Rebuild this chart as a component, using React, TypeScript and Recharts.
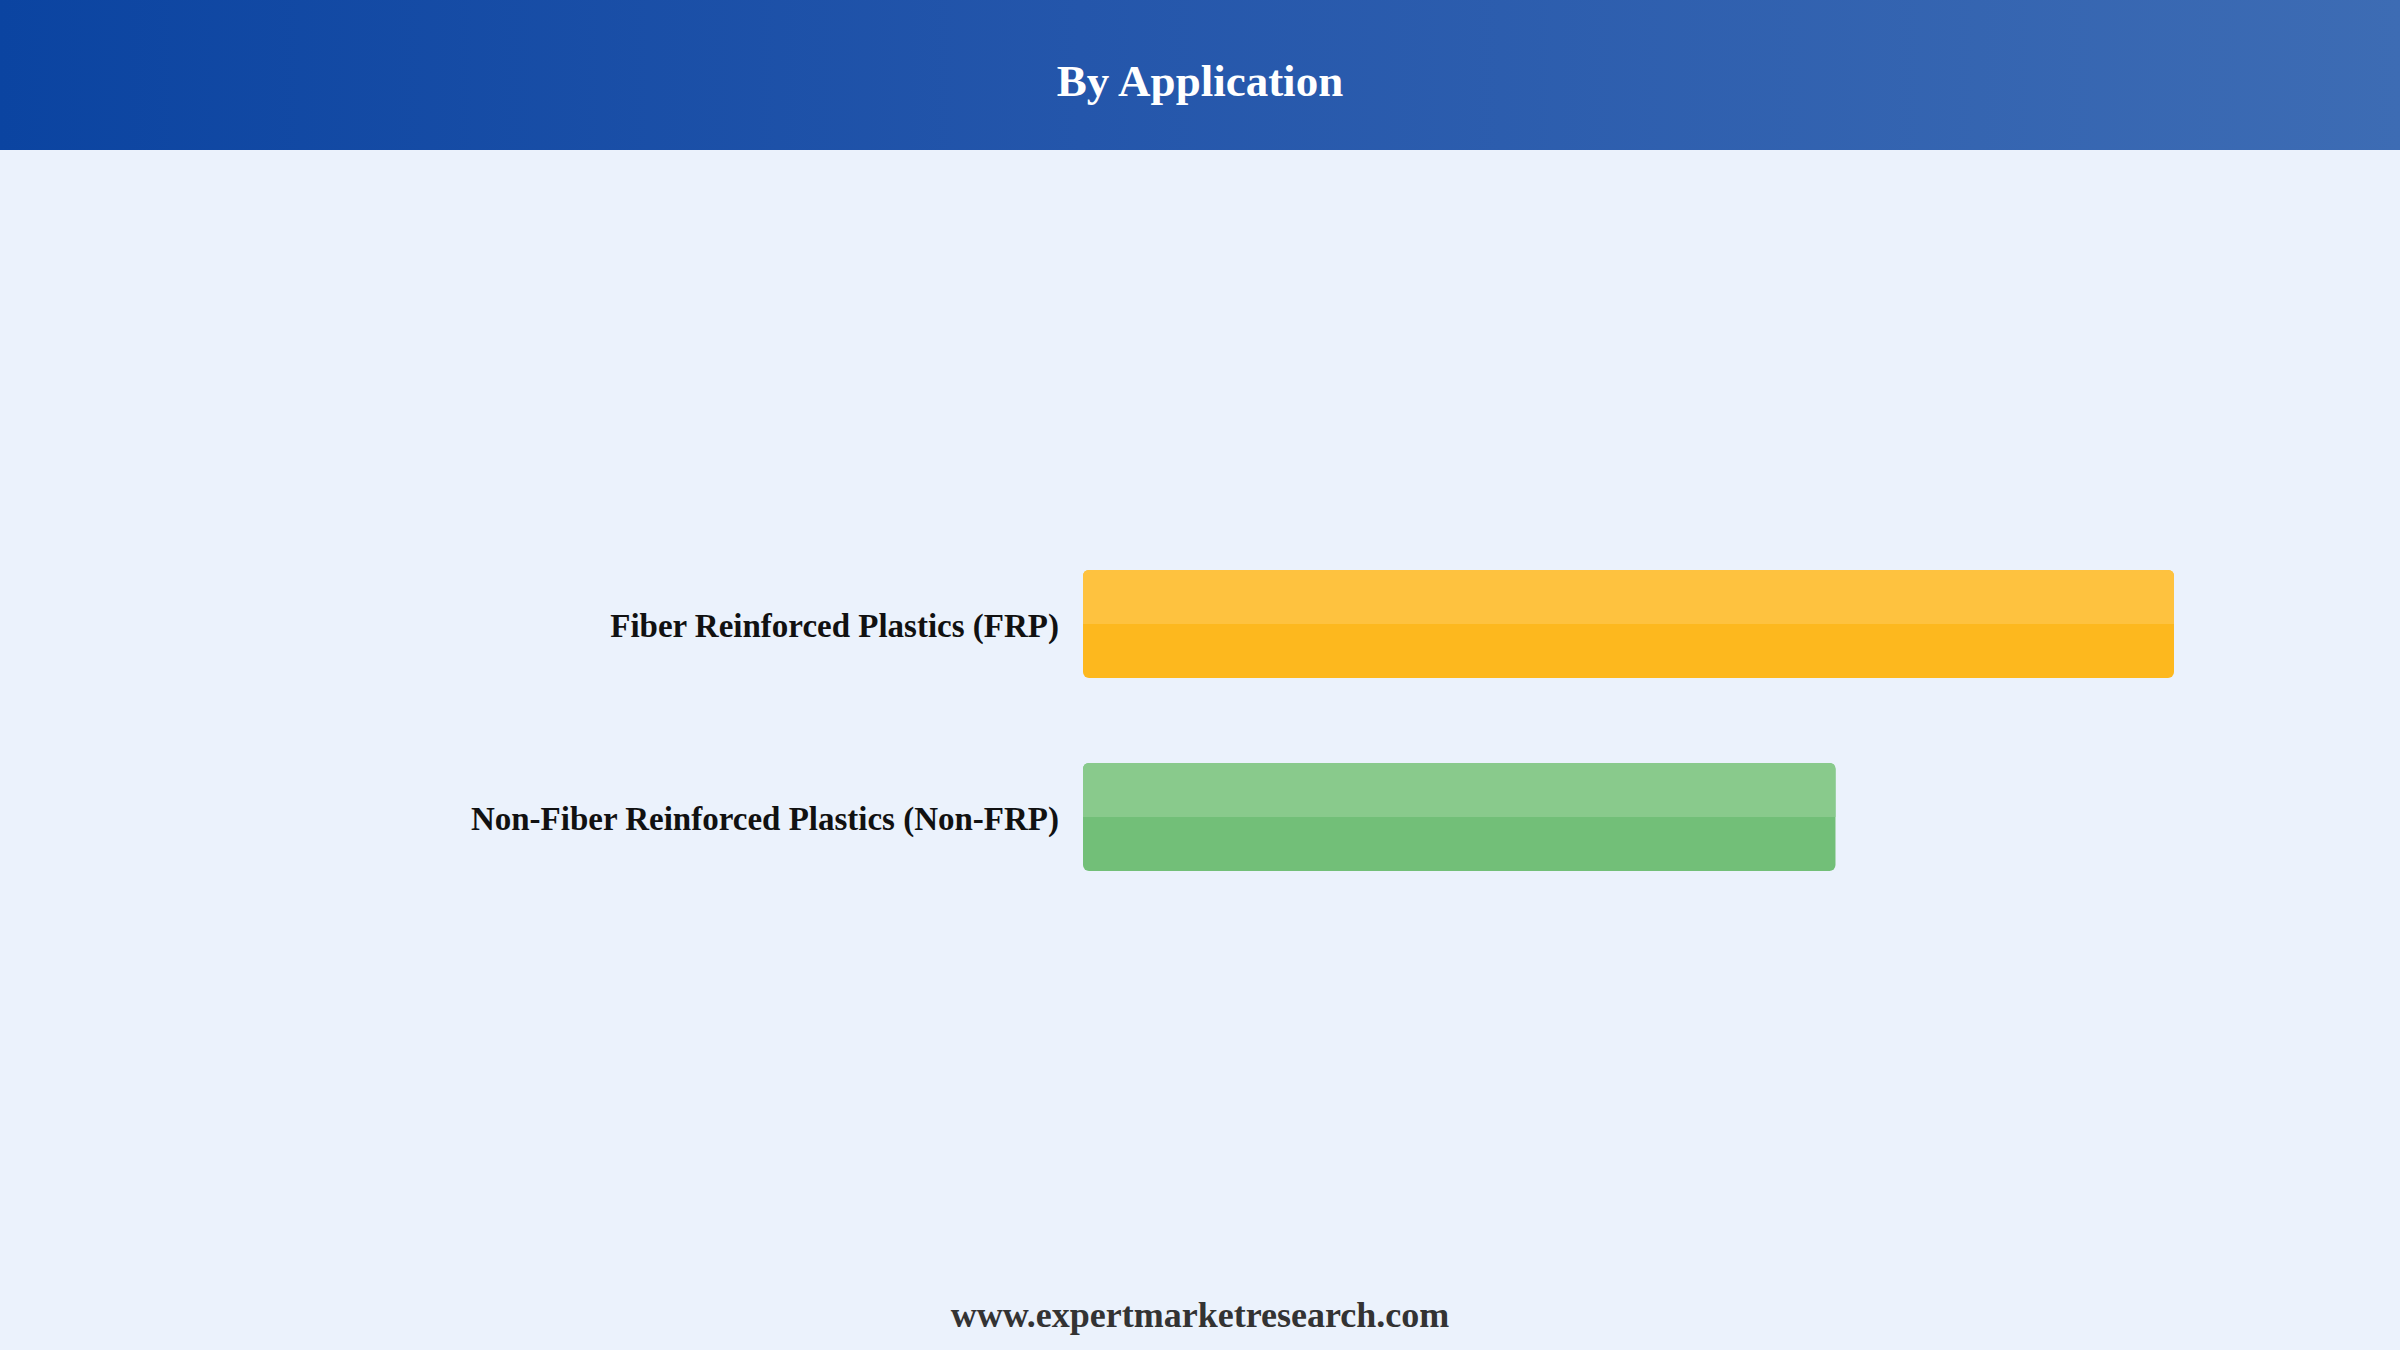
import React from "react";
import { BarChart, Bar, XAxis, YAxis } from "recharts";

const categories = ["Fiber Reinforced Plastics (FRP)", "Non-Fiber Reinforced Plastics (Non-FRP)"];
const shares = [59.3, 40.9];
const barColors = ["#FDB81E", "#72BF78"];
const barTopColors = ["#FEC23F", "#89CA8C"];

const data = categories.map((name, i) => ({ name, value: shares[i], idx: i }));

const FONT = '"Liberation Serif", "Times New Roman", serif';

const BarShape = (props: any) => {
  const { x, y, width, height, payload } = props;
  const i = payload.idx;
  const r = 6;
  const h2 = height / 2;
  const topPath = `M ${x} ${y + h2} L ${x} ${y + r} Q ${x} ${y} ${x + r} ${y} L ${x + width - r} ${y} Q ${x + width} ${y} ${x + width} ${y + r} L ${x + width} ${y + h2} Z`;
  return (
    <g>
      <rect x={x} y={y} width={width} height={height} rx={r} ry={r} fill={barColors[i]} />
      <path d={topPath} fill={barTopColors[i]} />
    </g>
  );
};

const Tick = (props: any) => {
  const { x, y, payload } = props;
  return (
    <text x={x} y={y + 2} dy="0.35em" textAnchor="end" fontFamily={FONT} fontWeight="bold" fontSize={33} fill="#111111">
      {payload.value}
    </text>
  );
};

export default function App() {
  return (
    <div style={{ position: "absolute", left: 0, top: 0, width: 2400, height: 1350, background: "#EBF2FC", overflow: "hidden", fontFamily: FONT }}>
      <div
        style={{
          position: "absolute",
          left: 0,
          top: 0,
          width: 2400,
          height: 150,
          background: "linear-gradient(90deg, #0B44A1 0%, #2456AB 45%, #3D6CB4 100%)",
        }}
      >
        <div style={{ position: "absolute", left: 0, width: 2400, top: 81, transform: "translateY(-50%)", textAlign: "center", color: "#ffffff", fontWeight: "bold", fontSize: 45, lineHeight: 1 }}>
          By Application
        </div>
      </div>
      <div style={{ position: "absolute", left: 0, top: 0 }}>
        <BarChart
          width={2400}
          height={1350}
          data={data}
          layout="vertical"
          margin={{ top: 527, bottom: 437, left: 0, right: 226 }}
        >
          <XAxis type="number" hide domain={[0, "dataMax"]} />
          <YAxis
            type="category"
            dataKey="name"
            width={1083}
            axisLine={false}
            tickLine={false}
            tickMargin={18}
            tick={<Tick />}
          />
          <Bar dataKey="value" barSize={108} isAnimationActive={false} shape={<BarShape />} />
        </BarChart>
      </div>
      <div style={{ position: "absolute", left: 0, width: 2400, top: 1315, transform: "translateY(-50%)", textAlign: "center", color: "#333333", fontWeight: "bold", fontSize: 36, lineHeight: 1 }}>
        www.expertmarketresearch.com
      </div>
    </div>
  );
}
